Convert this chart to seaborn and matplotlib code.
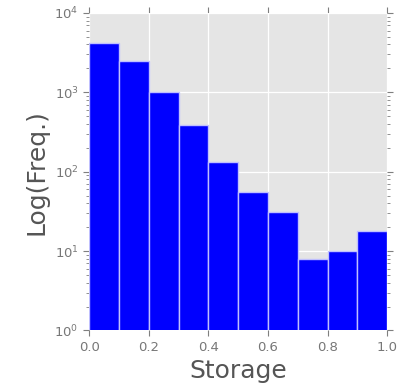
import numpy as np
import pandas as pd
import matplotlib
matplotlib.use("Agg")
import matplotlib.pyplot as plt
import seaborn as sns

bin_edges = [0.0, 0.1, 0.2, 0.3, 0.4, 0.5, 0.6, 0.7, 0.8, 0.9, 1.0]
bin_centers = [0.05, 0.15, 0.25, 0.35, 0.45, 0.55, 0.65, 0.75, 0.85, 0.95]
counts = [4200, 2500, 1000, 390, 133, 56, 31, 8, 10, 18]
x_ticks = [0.0, 0.2, 0.4, 0.6, 0.8, 1.0]
x_tick_labels = ["0.0", "0.2", "0.4", "0.6", "0.8", "1.0"]

df = pd.DataFrame({"Storage": bin_centers, "count": counts})

sns.set_style("darkgrid", {"axes.facecolor": "#E5E5E5", "grid.color": "white",
                           "axes.edgecolor": "white"})
plt.rcParams['font.family'] = ['DejaVu Sans']

fig = plt.figure(figsize=(4.05, 3.91), dpi=100)
ax = fig.add_axes([0.22, 0.155, 0.736, 0.812])

sns.histplot(data=df, x="Storage", weights="count", bins=bin_edges, ax=ax,
             color="#0000FF", alpha=1.0, edgecolor="#BFBFFF", linewidth=1.0)
ax.set_yscale("log")
ax.set_ylim(1, 1e4)
ax.set_xlim(0, 1)
ax.set_xticks(x_ticks)
ax.set_xticklabels(x_tick_labels)
ax.grid(True, which="major", color="white", linewidth=0.9)
ax.grid(False, which="minor")
ax.set_axisbelow(True)

ax.tick_params(axis="both", which="both", direction="out", colors="#7F7F7F",
               labelcolor="#777777", labelsize=9.5, top=True, right=True,
               bottom=True, left=True)
ax.tick_params(axis="both", which="major", length=4, width=0.8)
ax.tick_params(axis="y", which="minor", length=2, width=0.6)
ax.set_xlabel("Storage", fontsize=18, color="#555555")
ax.set_ylabel("Log(Freq.)", fontsize=18, color="#555555")
for s in ax.spines.values():
    s.set_visible(False)

fig.savefig("out.png", dpi=100)
